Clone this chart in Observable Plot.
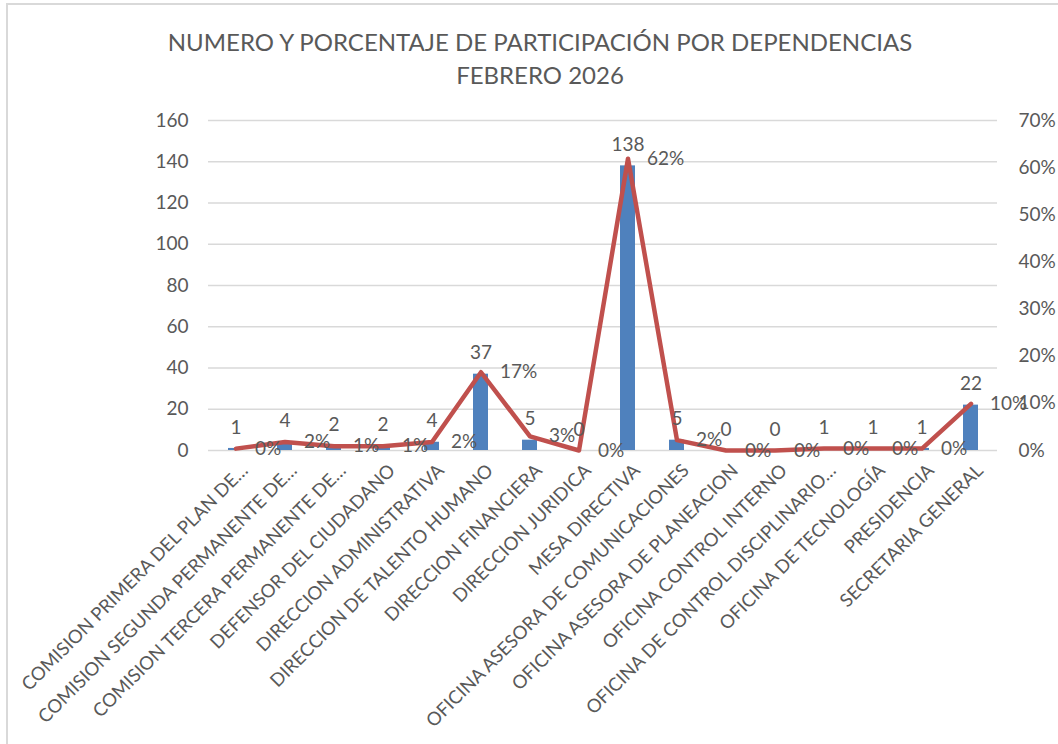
<!DOCTYPE html>
<html><head><meta charset="utf-8">
<script src="https://cdn.jsdelivr.net/npm/d3@7"></script>
<script src="https://cdn.jsdelivr.net/npm/@observablehq/plot@0.6"></script>
<style>
body{margin:0;background:#fff;overflow:hidden;width:1058px;height:744px;position:relative;}
#frame{position:absolute;left:6px;top:3px;width:1100px;height:800px;border-left:2px solid #d9d9d9;border-top:2px solid #d9d9d9;}
#title{position:absolute;left:0;top:25px;width:1080px;text-align:center;font-family:"Lato",sans-serif;font-size:24px;color:#595959;line-height:33px;}
#chart{position:absolute;left:0;top:100px;}
</style></head>
<body><div id="frame"></div><div id="title">NUMERO Y PORCENTAJE DE PARTICIPACIÓN POR DEPENDENCIAS<br>FEBRERO 2026</div><div id="chart"></div>
<script>
const categories = [
  "COMISION PRIMERA DEL PLAN DE…",
  "COMISION SEGUNDA PERMANENTE DE…",
  "COMISION TERCERA PERMANENTE DE…",
  "DEFENSOR DEL CIUDADANO",
  "DIRECCION ADMINISTRATIVA",
  "DIRECCION DE TALENTO HUMANO",
  "DIRECCION FINANCIERA",
  "DIRECCION JURIDICA",
  "MESA DIRECTIVA",
  "OFICINA ASESORA DE COMUNICACIONES",
  "OFICINA ASESORA DE PLANEACION",
  "OFICINA CONTROL INTERNO",
  "OFICINA DE CONTROL DISCIPLINARIO…",
  "OFICINA DE TECNOLOGÍA",
  "PRESIDENCIA",
  "SECRETARIA GENERAL"
];
const counts = [1, 4, 2, 2, 4, 37, 5, 0, 138, 5, 0, 0, 1, 1, 1, 22];
const percents = [0.4, 1.8, 0.9, 0.9, 1.8, 16.6, 3.0, 0, 61.9, 2.2, 0, 0, 0.4, 0.4, 0.4, 9.9];
const percentLabels = ["0%","2%","1%","1%","2%","17%","3%","0%","62%","2%","0%","0%","0%","0%","0%","10%"];
const leftTicks = [0, 20, 40, 60, 80, 100, 120, 140, 160];
const rightTicks = [0, 10, 20, 30, 40, 50, 60, 70];

const leftMax = 160, rightMax = 70;
const k = leftMax / rightMax;
const data = categories.map((c, i) => ({cat: c, count: counts[i], pct: percents[i], pctY: percents[i] * k, plabel: percentLabels[i]}));

const FONT = '"Lato", sans-serif';
const GREY = "#595959";

const chart = Plot.plot({
  width: 1058,
  height: 644,
  marginLeft: 208,
  marginRight: 61,
  marginTop: 20,
  marginBottom: 294,
  style: {fontFamily: FONT, color: GREY, fontSize: "19px", background: "transparent"},
  x: {domain: categories, paddingInner: 0.7, paddingOuter: 0.35, axis: null, label: null},
  y: {domain: [0, leftMax], axis: null, label: null},
  marks: [
    Plot.gridY(leftTicks, {stroke: "#d9d9d9", strokeOpacity: 1, strokeWidth: 1.5}),
    Plot.axisY(leftTicks, {anchor: "left", tickSize: 0, tickPadding: 20, fontSize: 19, fill: GREY, label: null}),
    Plot.axisY(rightTicks.map(t => t * k), {anchor: "right", tickSize: 0, tickPadding: 21, fontSize: 19, fill: GREY, label: null, tickFormat: d => Math.round(d / k) + "%"}),
    Plot.axisX({anchor: "bottom", tickSize: 0, tickPadding: 8, tickRotate: -45, fontSize: 18.5, fill: GREY, label: null, dx: 9, dy: 9}),
    Plot.barY(data, {x: "cat", y: "count", fill: "#4f81bd"}),
    Plot.line(data, {x: "cat", y: "pctY", stroke: "#c0504d", strokeWidth: 4.5, strokeLinejoin: "round", strokeLinecap: "round"}),
    Plot.text(data, {x: "cat", y: "count", text: d => String(d.count), dy: -21, fontSize: 19, fill: GREY}),
    Plot.text(data, {x: "cat", y: "pctY", text: "plabel", dx: 19, textAnchor: "start", fontSize: 19, fill: GREY})
  ]
});
document.getElementById("chart").appendChild(chart);
</script>
</body></html>
